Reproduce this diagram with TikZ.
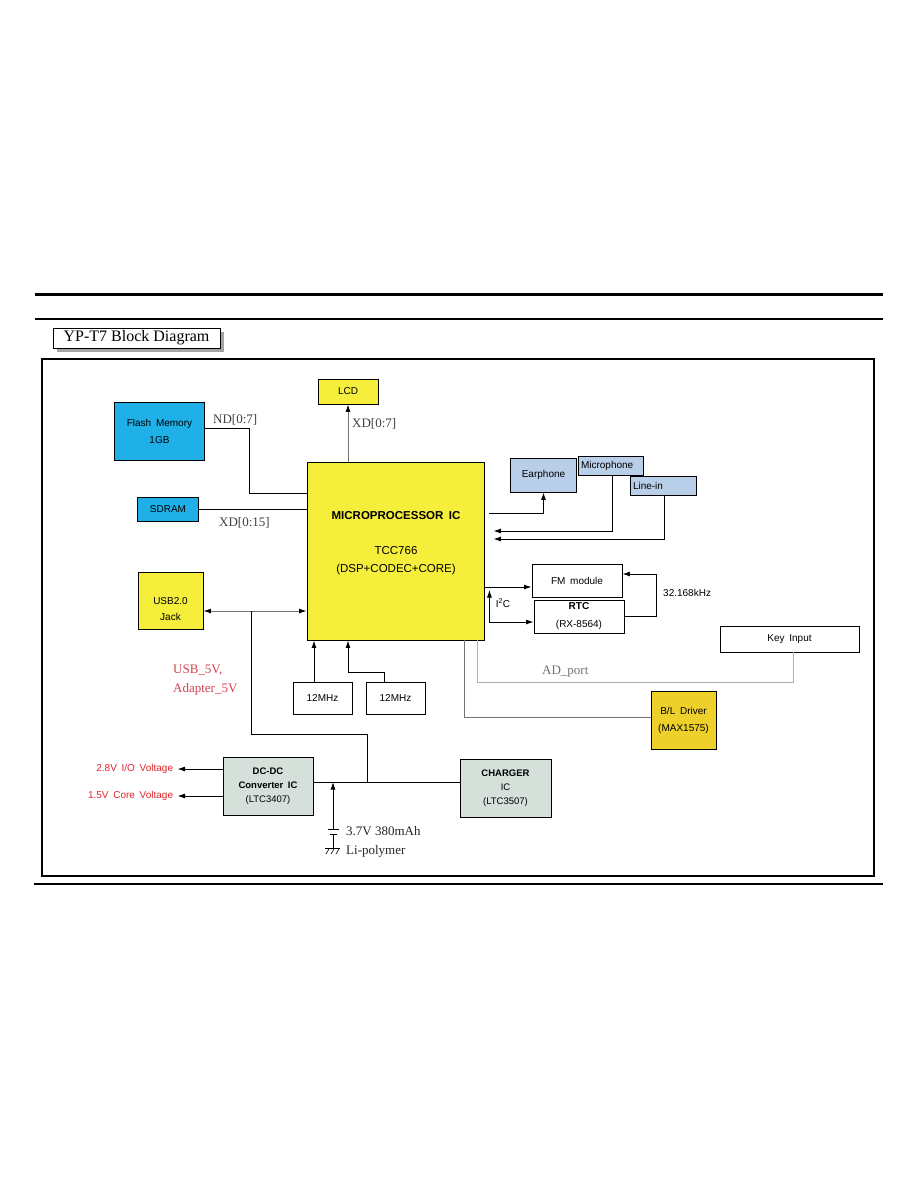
\documentclass[tikz,border=0pt]{standalone}
\usepackage{fontspec}
\setmainfont{Liberation Serif}
\setsansfont[WordSpace=1.7]{Liberation Sans}
\usepackage{tikz}
\usetikzlibrary{arrows.meta,positioning,calc}
\definecolor{chipyel}{RGB}{245,238,58}
\definecolor{drvyel}{RGB}{238,208,42}
\definecolor{memcyan}{RGB}{30,176,230}
\definecolor{audblue}{RGB}{185,206,232}
\definecolor{pwrgrey}{RGB}{212,224,217}
\definecolor{voltred}{RGB}{225,35,40}
\definecolor{usbred}{RGB}{210,65,80}
\definecolor{wiregrey}{RGB}{115,115,115}
\definecolor{adgrey}{RGB}{175,175,175}
\definecolor{shadegrey}{RGB}{165,165,165}

\begin{document}
\begin{tikzpicture}[x=1pt, y=-1pt,
  >={Latex[length=7.5pt,width=5pt]},
  wire/.style={line width=0.9pt},
  blk/.style={draw, line width=0.9pt, inner sep=1pt, align=center, font=\sffamily\fontsize{10}{17}\selectfont},
  wh/.style 2 args={minimum width=#1pt, minimum height=#2pt},
  mem/.style={blk, fill=memcyan},
  chip/.style={blk, fill=chipyel},
  aud/.style={blk, fill=audblue},
  pwr/.style={blk, fill=pwrgrey, font=\sffamily\fontsize{9.5}{14}\selectfont},
  plain/.style={blk, fill=white},
  txt/.style={inner sep=0pt, align=center, font=\sffamily\fontsize{10}{16}\selectfont},
  mcutxt/.style={inner sep=0pt, align=center, font=\sffamily\fontsize{11.5}{18}\selectfont},
  sig/.style={inner sep=0pt, anchor=west, text=black!75, font=\fontsize{13}{15}\selectfont},
  volt/.style={inner sep=0pt, inner xsep=4pt, anchor=east, text=voltred, font=\sffamily\fontsize{10}{12}\selectfont}]
\useasboundingbox (0,0) rectangle (918,1188);
\draw[line width=3pt] (35,294.5) -- (883,294.5);
\draw[line width=2.5pt] (35,319) -- (883,319);
\draw[line width=1.8pt] (34,884) -- (883,884);
\fill[shadegrey] (57,332) rectangle (224,352);
\node[draw, fill=white, line width=0.9pt, wh={167}{20}, inner sep=0pt, font=\fontsize{16}{18}\selectfont] (title) at (136.5,338) {YP-T7 Block Diagram};
\draw[line width=1.2pt] (42,359) rectangle (874,876);

\node[chip, wh={60}{25}] (lcd) at (348,391.5) {LCD};
\node[mem, wh={90}{58}] (flash) at (159.5,431) {Flash Memory\\1GB};
\node[mem, wh={61}{24}] (sdram) at (168,509) {SDRAM};
\node[chip, wh={177}{178}] (mcu) at (395.5,551) {};
\node[mcutxt] (mcuname) at (396,516) {\bfseries MICROPROCESSOR IC};
\node[mcutxt] (mcupart) at (396,561) {TCC766\\(DSP+CODEC+CORE)};
\node[chip, wh={65}{57}] (usb) at (170.5,601) {};
\node[txt] (usbname) at (170.5,609) {USB2.0\\Jack};
\node[aud, wh={66}{34}] (ear) at (543.5,475) {Earphone};
\node[aud, wh={65}{19}, text width=59pt, inner xsep=3pt, align=left] (mic) at (610.5,465.5) {Microphone};
\node[aud, wh={66}{19}, text width=60pt, inner xsep=3pt, align=left] (linein) at (663,486) {Line-in};
\node[plain, wh={90}{33}] (fm) at (577,580.5) {FM module};
\node[plain, wh={90}{33}, font=\sffamily\fontsize{10}{18}\selectfont] (rtc) at (579,616.5) {\textbf{RTC}\\(RX-8564)};
\node[plain, wh={139}{26}] (key) at (789.5,639) {Key Input};
\node[blk, fill=drvyel, wh={65}{58}] (bl) at (683.5,720) {B/L Driver\\(MAX1575)};
\node[plain, wh={59}{32}] (xa) at (322.5,698) {12MHz};
\node[plain, wh={59}{32}] (xb) at (395.5,698) {12MHz};
\node[pwr, wh={90}{58}] (dcdc) at (268,786) {\textbf{DC-DC}\\\textbf{Converter IC}\\(LTC3407)};
\node[pwr, wh={91}{58}] (chg) at (505.5,788) {\textbf{CHARGER}\\IC\\(LTC3507)};

\draw[wire] (flash.east |- 0,428) -- ++(44,0) |- (mcu.west |- 0,493);
\draw[wire] (sdram.east) -- (mcu.west |- sdram.east);
\draw[wire, draw=wiregrey, {Latex[length=7.5pt,width=5pt,black]}-] (lcd.south) -- (mcu.north -| lcd);
\node[sig] (ndbus) at (213,420) {ND[0:7]};
\node[sig] (xdwide) at (219,523) {XD[0:15]};
\node[sig] (xdlcd) at (352,424) {XD[0:7]};

\draw[wire, ->] ([xshift=5pt]mcu.east |- 0,513) -| (ear.south);
\draw[wire, ->] (mic.south -| 612,0) |- ([xshift=9pt]mcu.east |- 0,531);
\draw[wire, ->] (linein.south -| 664,0) |- ([xshift=9pt]mcu.east |- 0,539);

\draw[wire, ->] (mcu.east |- 0,587) -- (fm.west |- 0,587);
\draw[wire, <->] ([xshift=5pt]mcu.east |- 0,590) |- (rtc.west |- 0,622);
\node[txt] (i2c) at (503,603) {I\textsuperscript{2}C};
\draw[wire, ->] (rtc.east) -- ++(32,0) |- (fm.east |- 0,574);
\node[txt, anchor=west] (clk) at (663,593) {32.168kHz};

\draw[wire, draw=wiregrey, {Latex[length=7.5pt,width=5pt,black]}-{Latex[length=7.5pt,width=5pt,black]}] (usb.east |- 0,611) -- (mcu.west |- 0,611);
\coordinate (tap) at (251,611);
\coordinate (pj) at (367,782);
\draw[wire] (tap) -- (tap |- 0,734) -| (pj);
\node[sig, text=usbred] (usbv) at (173,670) {USB\_5V,};
\node[sig, text=usbred] (adpv) at (173,689) {Adapter\_5V};

\draw[wire, ->] (xa.north -| 314,0) -- (mcu.south -| 314,0);
\draw[wire, ->] ([xshift=-11pt]xb.north) |- ($(mcu.south -| lcd)+(0,32)$) -- (mcu.south -| lcd);
\draw[wire, draw=adgrey] (mcu.south -| 477,0) |- (793,682) -- (key.south -| 793,0);
\node[sig, text=black!55] (adport) at (542,672) {AD\_port};
\draw[wire, draw=wiregrey] (mcu.south -| 464,0) |- (bl.west |- 0,717);

\draw[wire] (dcdc.east |- pj) -- (chg.west |- pj);
\draw[wire, ->] (dcdc.west |- 0,769) -- ++(-45,0) node[volt] (vio) {2.8V I/O Voltage};
\draw[wire, ->] (dcdc.west |- 0,796) -- ++(-45,0) node[volt] (vcore) {1.5V Core Voltage};

\coordinate (batp) at (333,829);
\draw[wire, ->] (batp) -- (batp |- pj);
\draw[wire] (327.5,829) -- (338.5,829);
\draw[wire] (329.5,834) -- (336.5,834) (333,834) -- (333,848);
\draw[wire] (325,848) -- (340,848);
\foreach \x in {329,334,339}
  \draw[line width=0.6pt] (\x,849) -- ++(-3,5);
\node[sig, text=black!85] (batv) at (346,831) {3.7V 380mAh};
\node[sig, text=black!85] (batt) at (346,851) {Li-polymer};
\end{tikzpicture}
\end{document}
